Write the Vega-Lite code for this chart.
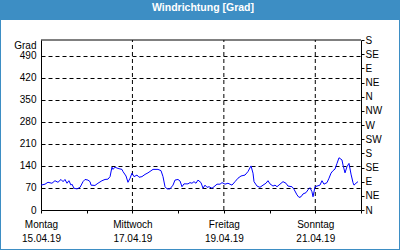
{
  "$schema": "https://vega.github.io/schema/vega-lite/v6.json",
  "width": 398,
  "height": 229,
  "autosize": "none",
  "padding": {"left": 1, "right": 1, "top": 20, "bottom": 1},
  "background": "#3d8ec4",
  "title": {"text": "Windrichtung [Grad]", "color": "white", "fontSize": 10.5, "fontWeight": "bold", "font": "Liberation Sans", "anchor": "middle", "frame": "group", "offset": 8, "baseline": "alphabetic", "dx": 3, "dy": 9},
  "config": {"font": "Liberation Sans", "view": {"fill": "white", "stroke": null}},
  "encoding": {
    "x": {
      "field": "t", "type": "temporal",
      "scale": {"domain": [{"year": 2019, "month": 4, "date": 15}, {"year": 2019, "month": 4, "date": 22}], "range": [40, 360], "nice": false},
      "axis": {
        "orient": "bottom", "offset": -39, "title": null,
        "values": [{"year": 2019, "month": 4, "date": 15}, {"year": 2019, "month": 4, "date": 16}, {"year": 2019, "month": 4, "date": 17}, {"year": 2019, "month": 4, "date": 18}, {"year": 2019, "month": 4, "date": 19}, {"year": 2019, "month": 4, "date": 20}, {"year": 2019, "month": 4, "date": 21}, {"year": 2019, "month": 4, "date": 22}],
        "labelExpr": "date(datum.value) % 2 == 1 && date(datum.value) < 22 ? [['Sonntag','Montag','Dienstag','Mittwoch','Donnerstag','Freitag','Samstag'][day(datum.value)], timeFormat(datum.value, '%d.%m.%y')] : ''",
        "labelAngle": 0, "labelAlign": "center", "labelBaseline": "top", "labelLineHeight": 14,
        "labelFontSize": 10, "labelColor": "#000000", "labelPadding": 6, "labelDx": -3,
        "labelFlush": false, "labelOverlap": false, "labelBound": false,
        "domainColor": "#000000", "domainWidth": 1,
        "ticks": true, "tickColor": "#000000", "tickSize": 3, "tickWidth": 1,
        "grid": false
      }
    }
  },
  "layer": [
    {
      "data": {"values": [
        {"t": "2019-04-17T00:00", "y0": 0, "y1": 540},
        {"t": "2019-04-19T00:00", "y0": 0, "y1": 540},
        {"t": "2019-04-21T00:00", "y0": 0, "y1": 540}
      ]},
      "mark": {"type": "rule", "color": "#000000", "strokeWidth": 1, "strokeDash": [4, 3]},
      "encoding": {
        "y": {"field": "y0", "type": "quantitative", "axis": null},
        "y2": {"field": "y1"}
      }
    },
    {
      "data": {"values": [
        {"t": "2019-04-15T00:00", "v": 79}, {"t": "2019-04-15T02:06", "v": 82}, {"t": "2019-04-15T03:40", "v": 88}, {"t": "2019-04-15T05:45", "v": 85},
        {"t": "2019-04-15T07:20", "v": 93}, {"t": "2019-04-15T08:55", "v": 88}, {"t": "2019-04-15T10:30", "v": 97}, {"t": "2019-04-15T11:35", "v": 90},
        {"t": "2019-04-15T12:35", "v": 97}, {"t": "2019-04-15T13:40", "v": 85}, {"t": "2019-04-15T14:40", "v": 93}, {"t": "2019-04-15T15:45", "v": 79},
        {"t": "2019-04-15T16:15", "v": 82}, {"t": "2019-04-15T17:20", "v": 69}, {"t": "2019-04-15T18:55", "v": 67}, {"t": "2019-04-15T20:30", "v": 72},
        {"t": "2019-04-15T22:03", "v": 90}, {"t": "2019-04-15T23:06", "v": 97}, {"t": "2019-04-16T00:40", "v": 95}, {"t": "2019-04-16T01:45", "v": 90},
        {"t": "2019-04-16T02:15", "v": 79}, {"t": "2019-04-16T04:20", "v": 78}, {"t": "2019-04-16T05:55", "v": 85}, {"t": "2019-04-16T08:00", "v": 93},
        {"t": "2019-04-16T09:36", "v": 97}, {"t": "2019-04-16T11:10", "v": 98}, {"t": "2019-04-16T12:15", "v": 106}, {"t": "2019-04-16T13:15", "v": 136},
        {"t": "2019-04-16T13:48", "v": 129}, {"t": "2019-04-16T14:50", "v": 136}, {"t": "2019-04-16T16:25", "v": 132}, {"t": "2019-04-16T18:30", "v": 129},
        {"t": "2019-04-16T19:03", "v": 122}, {"t": "2019-04-16T20:38", "v": 108}, {"t": "2019-04-16T21:40", "v": 88}, {"t": "2019-04-16T22:45", "v": 101},
        {"t": "2019-04-16T23:46", "v": 117}, {"t": "2019-04-17T00:50", "v": 106}, {"t": "2019-04-17T02:24", "v": 111}, {"t": "2019-04-17T03:27", "v": 104},
        {"t": "2019-04-17T05:00", "v": 106}, {"t": "2019-04-17T06:36", "v": 113}, {"t": "2019-04-17T08:10", "v": 118}, {"t": "2019-04-17T10:48", "v": 129},
        {"t": "2019-04-17T13:25", "v": 129}, {"t": "2019-04-17T15:00", "v": 125}, {"t": "2019-04-17T16:03", "v": 106}, {"t": "2019-04-17T17:06", "v": 74},
        {"t": "2019-04-17T18:09", "v": 67}, {"t": "2019-04-17T19:43", "v": 67}, {"t": "2019-04-17T21:18", "v": 79}, {"t": "2019-04-17T22:21", "v": 95},
        {"t": "2019-04-17T23:55", "v": 97}, {"t": "2019-04-18T01:00", "v": 92}, {"t": "2019-04-18T02:01", "v": 74}, {"t": "2019-04-18T03:04", "v": 83},
        {"t": "2019-04-18T05:10", "v": 83}, {"t": "2019-04-18T06:13", "v": 87}, {"t": "2019-04-18T07:16", "v": 85}, {"t": "2019-04-18T08:19", "v": 90},
        {"t": "2019-04-18T09:22", "v": 85}, {"t": "2019-04-18T10:25", "v": 95}, {"t": "2019-04-18T12:00", "v": 87}, {"t": "2019-04-18T13:03", "v": 69},
        {"t": "2019-04-18T14:06", "v": 79}, {"t": "2019-04-18T15:09", "v": 72}, {"t": "2019-04-18T16:12", "v": 74}, {"t": "2019-04-18T17:46", "v": 69},
        {"t": "2019-04-18T18:50", "v": 74}, {"t": "2019-04-18T20:24", "v": 82}, {"t": "2019-04-18T22:00", "v": 82}, {"t": "2019-04-18T23:02", "v": 87},
        {"t": "2019-04-19T00:36", "v": 82}, {"t": "2019-04-19T02:10", "v": 85}, {"t": "2019-04-19T04:16", "v": 79}, {"t": "2019-04-19T05:51", "v": 90},
        {"t": "2019-04-19T07:25", "v": 101}, {"t": "2019-04-19T09:00", "v": 108}, {"t": "2019-04-19T11:06", "v": 111}, {"t": "2019-04-19T12:40", "v": 122},
        {"t": "2019-04-19T14:15", "v": 140}, {"t": "2019-04-19T15:18", "v": 117}, {"t": "2019-04-19T15:50", "v": 90}, {"t": "2019-04-19T17:24", "v": 76},
        {"t": "2019-04-19T18:58", "v": 72}, {"t": "2019-04-19T20:33", "v": 79}, {"t": "2019-04-19T22:07", "v": 85}, {"t": "2019-04-19T23:10", "v": 93},
        {"t": "2019-04-20T00:13", "v": 83}, {"t": "2019-04-20T01:48", "v": 76}, {"t": "2019-04-20T02:51", "v": 79}, {"t": "2019-04-20T03:54", "v": 74},
        {"t": "2019-04-20T05:28", "v": 82}, {"t": "2019-04-20T07:03", "v": 90}, {"t": "2019-04-20T08:37", "v": 85}, {"t": "2019-04-20T09:40", "v": 76},
        {"t": "2019-04-20T11:46", "v": 74}, {"t": "2019-04-20T12:49", "v": 66}, {"t": "2019-04-20T14:24", "v": 48}, {"t": "2019-04-20T15:27", "v": 40},
        {"t": "2019-04-20T16:30", "v": 42}, {"t": "2019-04-20T17:33", "v": 51}, {"t": "2019-04-20T19:07", "v": 55}, {"t": "2019-04-20T20:10", "v": 64},
        {"t": "2019-04-20T21:13", "v": 71}, {"t": "2019-04-20T22:16", "v": 58}, {"t": "2019-04-20T22:48", "v": 42}, {"t": "2019-04-20T23:51", "v": 74},
        {"t": "2019-04-21T00:54", "v": 76}, {"t": "2019-04-21T02:28", "v": 79}, {"t": "2019-04-21T03:31", "v": 93}, {"t": "2019-04-21T04:34", "v": 82},
        {"t": "2019-04-21T06:09", "v": 87}, {"t": "2019-04-21T07:12", "v": 101}, {"t": "2019-04-21T08:15", "v": 117}, {"t": "2019-04-21T09:18", "v": 125},
        {"t": "2019-04-21T10:21", "v": 130}, {"t": "2019-04-21T11:24", "v": 148}, {"t": "2019-04-21T12:27", "v": 166}, {"t": "2019-04-21T14:01", "v": 159},
        {"t": "2019-04-21T14:33", "v": 143}, {"t": "2019-04-21T15:36", "v": 118}, {"t": "2019-04-21T16:39", "v": 138}, {"t": "2019-04-21T17:42", "v": 148},
        {"t": "2019-04-21T18:45", "v": 114}, {"t": "2019-04-21T19:48", "v": 87}, {"t": "2019-04-21T20:19", "v": 79}, {"t": "2019-04-21T21:22", "v": 85},
        {"t": "2019-04-21T22:25", "v": 90}
      ]},
      "mark": {"type": "line", "color": "#0000ff", "strokeWidth": 1, "interpolate": "linear"},
      "encoding": {
        "y": {
          "field": "v", "type": "quantitative",
          "scale": {"domain": [0, 540], "range": [190, 20], "nice": false, "zero": true},
          "axis": {
            "orient": "left", "offset": -40, "values": [0, 70, 140, 210, 280, 350, 420, 490],
            "title": "Grad", "titleAngle": 0, "titleX": -5, "titleY": 25, "titleAlign": "right", "titleBaseline": "middle",
            "titleFontSize": 10, "titleFontWeight": "normal", "titleColor": "#000000", "titleFont": "Liberation Sans",
            "labelFontSize": 10, "labelColor": "#000000", "labelPadding": 5, "labelFlush": false, "labelOverlap": false,
            "ticks": false, "domainColor": "#000000", "domainWidth": 1,
            "grid": true, "gridColor": "#000000", "gridDash": [4, 3], "gridWidth": 1,
            "gridOpacity": {"condition": {"test": "datum.value > 0", "value": 1}, "value": 0}
          }
        }
      }
    },
    {
      "data": {"values": [{"t": "2019-04-15T00:00", "t2": "2019-04-22T00:00", "v": 540}]},
      "mark": {"type": "rule", "color": "#000000", "strokeWidth": 1},
      "encoding": {
        "x2": {"field": "t2"},
        "y": {
          "field": "v", "type": "quantitative",
          "axis": {
            "orient": "right", "offset": -38, "title": null,
            "values": [0, 45, 90, 135, 180, 225, 270, 315, 360, 405, 450, 495, 540],
            "labelExpr": "['N','NE','E','SE','S','SW','W','NW'][round(datum.value / 45) % 8]",
            "labelFontSize": 10, "labelColor": "#000000", "labelPadding": 1, "labelFlush": false, "labelOverlap": false,
            "ticks": true, "tickColor": "#000000", "tickSize": 3,
            "domainColor": "#000000", "domainWidth": 1, "grid": false
          }
        }
      }
    }
  ],
  "resolve": {"scale": {"y": "shared"}, "axis": {"y": "independent"}}
}
